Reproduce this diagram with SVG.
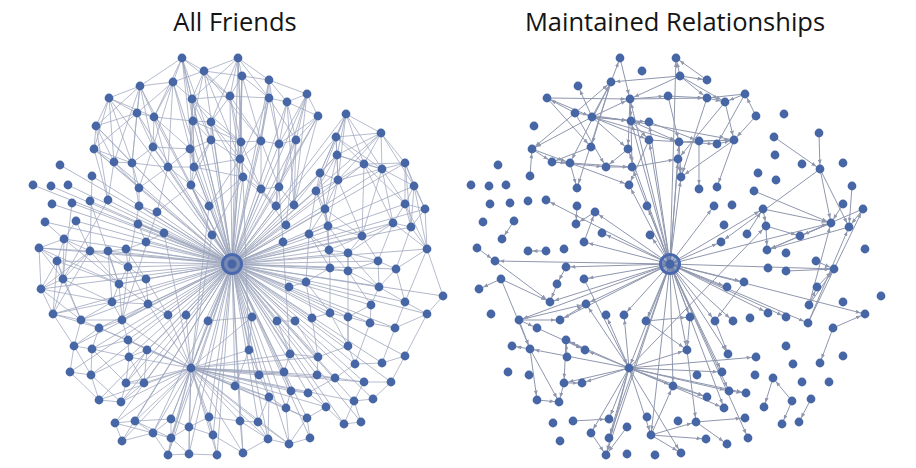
<svg xmlns="http://www.w3.org/2000/svg" xmlns:xlink="http://www.w3.org/1999/xlink" width="916" height="468" viewBox="0 0 916 468">
<style>
.title{font-family:"Open Sans","Noto Sans","Liberation Sans",sans-serif;font-size:25.5px;fill:#141414;text-anchor:middle}
.le{fill:none;stroke:#9ea6bd;stroke-opacity:.75;stroke-width:1}
.lh{fill:none;stroke:#9ea6bd;stroke-opacity:.8;stroke-width:1}
.re path{fill:none;stroke:#8f97ae;stroke-width:1;marker-end:url(#arr)}
#nodes circle{fill:#4766a5}
.hubring{fill:#c9d3ea;fill-opacity:.45;stroke:#4a68ae;stroke-width:3}
.hubdot{fill:#5a77b5}
</style>
<defs>
<marker id="arr" viewBox="0 0 5 4" refX="9.5" refY="2" markerWidth="5" markerHeight="4" markerUnits="userSpaceOnUse" orient="auto"><path d="M0,0L5,2L0,4z" fill="#8f97ae"/></marker>
</defs>
<rect width="916" height="468" fill="#ffffff"/>
<text class="title" x="235" y="31">All Friends</text>
<text class="title" x="675" y="31">Maintained Relationships</text>

<g id="connectors">
<g id="left-edges">
<path class="lh" d="M232 264L182 58M232 264L238 58M232 264L204 71M232 264L242 76M232 264L269 80M232 264L173 82M232 264L140 86M232 264L109 98M232 264L192 99M232 264L230 96M232 264L269 98M232 264L287 102M232 264L307 94M232 264L137 113M232 264L154 117M232 264L193 121M232 264L211 122M232 264L318 116M232 264L346 114M232 264L96 126M232 264L211 140M232 264L241 142M232 264L261 141M232 264L279 144M232 264L296 140M232 264L336 137M232 264L381 133M232 264L94 149M232 264L153 147M232 264L190 149M232 264L337 155M232 264L114 162M232 264L132 163M232 264L168 167M232 264L194 167M232 264L240 159M232 264L364 164M232 264L405 163M232 264L60 165M232 264L92 176M232 264L243 177M232 264L320 173M232 264L338 180M232 264L382 169M232 264L33 185M232 264L51 186M232 264L68 185M232 264L139 188M232 264L191 185M232 264L261 189M232 264L279 187M232 264L316 191M232 264L414 186M232 264L52 204M232 264L72 203M232 264L90 201M232 264L108 200M232 264L139 206M232 264L157 212M232 264L209 206M232 264L276 206M232 264L294 205M232 264L325 209M232 264L405 204M232 264L425 209M232 264L45 222M232 264L76 221M232 264L138 224M232 264L286 225M232 264L328 226M232 264L393 223M232 264L411 227M232 264L164 233M232 264L212 235M232 264L309 234M232 264L362 236M232 264L64 239M232 264L146 242M232 264L283 242M232 264L39 248M232 264L90 251M232 264L108 251M232 264L126 249M232 264L329 250M232 264L348 253M232 264L427 249M232 264L57 261M232 264L128 267M232 264L146 279M232 264L119 284M232 264L63 279M232 264L41 289M232 264L112 302M232 264L148 304M232 264L53 314M232 264L81 320M232 264L122 320M232 264L168 315M232 264L186 315M232 264L208 321M232 264L252 317M232 264L277 321M232 264L295 321M232 264L312 318M232 264L330 313M232 264L348 317M232 264L370 323M232 264L395 328M232 264L427 314M232 264L443 296M232 264L405 302M232 264L371 305M232 264L379 287M232 264L396 269M232 264L378 261M232 264L348 271M232 264L330 268M232 264L306 282M232 264L289 287M232 264L99 328M232 264L128 340M232 264L74 346M232 264L92 349M232 264L147 350M232 264L129 357M232 264L249 350M232 264L290 354M232 264L318 357M232 264L348 346M232 264L355 364M232 264L382 363M232 264L405 356M232 264L70 372M232 264L91 375M232 264L191 368M232 264L259 375M232 264L284 372M232 264L317 375M232 264L335 378M232 264L364 382M232 264L391 382M232 264L126 383M232 264L144 383M232 264L235 386M232 264L291 391M232 264L308 393M232 264L99 400M232 264L121 402M232 264L269 397M232 264L354 401M232 264L373 399M232 264L286 408M232 264L326 407M232 264L115 423M232 264L135 421M232 264L171 419M232 264L209 417M232 264L240 421M232 264L258 422M232 264L307 418M232 264L344 424M232 264L361 422M232 264L153 433M232 264L189 427M232 264L213 435M232 264L268 439M232 264L289 444M232 264L310 438M232 264L122 441M232 264L171 438M232 264L168 455M232 264L189 454M232 264L217 455M232 264L243 453"/>
<path class="le" d="M182 58L204 71M182 58L173 82M182 58L192 99M182 58L140 86M182 58L193 121M182 58L230 96M182 58L154 117M182 58L211 140M238 58L242 76M238 58L204 71M238 58L230 96M238 58L269 80M238 58L269 98M238 58L192 99M238 58L241 142M238 58L211 122M204 71L192 99M204 71L173 82M204 71L230 96M204 71L193 121M204 71L242 76M204 71L261 141M242 76L230 96M242 76L269 98M242 76L269 80M242 76L241 142M242 76L240 159M269 80L269 98M269 80L287 102M269 80L307 94M269 80L279 144M173 82L140 86M173 82L192 99M173 82L137 113M173 82L154 117M173 82L153 147M173 82L190 149M140 86L109 98M140 86L137 113M140 86L154 117M140 86L96 126M140 86L153 147M140 86L132 163M109 98L137 113M109 98L96 126M109 98L94 149M109 98L154 117M109 98L114 162M192 99L230 96M192 99L193 121M192 99L211 122M192 99L211 140M192 99L190 149M192 99L194 167M230 96L269 98M230 96L211 122M230 96L241 142M230 96L261 141M230 96L240 159M269 98L287 102M269 98L261 141M269 98L279 144M269 98L296 140M287 102L307 94M287 102L296 140M287 102L318 116M287 102L279 144M307 94L318 116M307 94L296 140M307 94L294 205M307 94L279 144M137 113L154 117M137 113L96 126M137 113L153 147M137 113L94 149M137 113L132 163M154 117L193 121M154 117L153 147M154 117L168 167M154 117L190 149M193 121L211 122M193 121L211 140M193 121L190 149M193 121L194 167M193 121L241 142M211 122L211 140M211 122L241 142M211 122L240 159M211 122L243 177M318 116L296 140M318 116L294 205M318 116L279 187M318 116L279 144M96 126L94 149M96 126L114 162M96 126L132 163M96 126L108 200M211 140L241 142M211 140L190 149M211 140L194 167M211 140L240 159M211 140L191 185M241 142L261 141M241 142L240 159M241 142L243 177M241 142L261 189M261 141L279 144M261 141L240 159M261 141L261 189M261 141L279 187M279 144L296 140M279 144L279 187M279 144L276 206M296 140L294 205M296 140L279 187M296 140L286 225M94 149L114 162M94 149L132 163M94 149L108 200M94 149L139 188M153 147L190 149M153 147L132 163M153 147L168 167M153 147L139 188M190 149L168 167M190 149L194 167M190 149L191 185M114 162L132 163M114 162L108 200M114 162L139 188M132 163L168 167M132 163L139 188M132 163L139 206M168 167L194 167M168 167L139 188M168 167L191 185M168 167L157 212M194 167L240 159M194 167L191 185M194 167L209 206M194 167L243 177M240 159L243 177M240 159L261 189M240 159L209 206M243 177L261 189M243 177L209 206M243 177L212 235M243 177L276 206M191 185L209 206M191 185L157 212M191 185L212 235M261 189L279 187M261 189L276 206M261 189L286 225M279 187L276 206M279 187L294 205M279 187L283 242M139 206L157 212M139 188L139 206M182 58L194 167M238 58L243 177M204 71L240 159M173 82L168 167M140 86L114 162M307 94L279 187M269 80L261 141M192 99L241 142M269 98L240 159M109 98L132 163M287 102L294 205M242 76L261 141"/>
<path class="le" d="M346 114L336 137M346 114L381 133M346 114L337 155M346 114L364 164M346 114L320 173M346 114L338 180M346 114L382 169M346 114L316 191M381 133L336 137M381 133L364 164M381 133L405 163M381 133L382 169M381 133L337 155M381 133L414 186M381 133L338 180M336 137L337 155M336 137L320 173M336 137L338 180M336 137L364 164M337 155L364 164M337 155L320 173M337 155L338 180M337 155L316 191M337 155L325 209M364 164L382 169M364 164L338 180M364 164L405 163M364 164L405 204M364 164L393 223M364 164L362 236M405 163L382 169M405 163L414 186M405 163L405 204M405 163L425 209M320 173L338 180M320 173L316 191M320 173L325 209M320 173L328 226M320 173L294 205M338 180L316 191M338 180L325 209M338 180L382 169M338 180L328 226M338 180L362 236M382 169L414 186M382 169L405 204M382 169L393 223M382 169L362 236M316 191L325 209M316 191L328 226M316 191L309 234M414 186L405 204M414 186L425 209M414 186L411 227M414 186L427 249M325 209L328 226M325 209L309 234M325 209L329 250M325 209L362 236M405 204L425 209M405 204L393 223M405 204L411 227M425 209L411 227M425 209L427 249M328 226L309 234M328 226L329 250M328 226L348 253M328 226L362 236M393 223L411 227M393 223L362 236M393 223L427 249M393 223L378 261M393 223L348 253M411 227L427 249M411 227L396 269M309 234L329 250M309 234L330 268M309 234L306 282M362 236L348 253M362 236L378 261M362 236L329 250M329 250L348 253M329 250L330 268M329 250L348 271M348 253L348 271M348 253L378 261M348 253L379 287M427 249L396 269M427 249L405 302M427 249L443 296M378 261L396 269M378 261L348 271M378 261L379 287M396 269L379 287M396 269L405 302M330 268L348 271M330 268L306 282M330 268L330 313M348 271L379 287M348 271L371 305M379 287L371 305M379 287L405 302M306 282L289 287M306 282L312 318M306 282L330 313M371 305L370 323M371 305L348 317M405 302L427 314M405 302L395 328M443 296L427 314M427 314L395 328M395 328L370 323M370 323L348 317M348 317L330 313M330 313L312 318M405 204L427 249M405 163L411 227M337 155L382 169M336 137L382 169"/>
<path class="le" d="M76 221L64 239M76 221L90 251M45 222L64 239M64 239L39 248M64 239L57 261M64 239L90 251M64 239L63 279M64 239L119 284M39 248L57 261M39 248L41 289M39 248L63 279M39 248L90 251M57 261L63 279M57 261L41 289M57 261L119 284M57 261L53 314M63 279L41 289M63 279L112 302M63 279L53 314M63 279L81 320M41 289L53 314M41 289L81 320M41 289L90 251M90 251L108 251M90 251L119 284M90 251L63 279M90 251L128 267M108 251L126 249M108 251L128 267M108 251L119 284M108 251L112 302M126 249L128 267M126 249L146 279M126 249L146 242M128 267L146 279M128 267L119 284M128 267L148 304M128 267L122 320M146 279L148 304M146 279L119 284M146 279L168 315M119 284L112 302M119 284L122 320M119 284L148 304M112 302L122 320M112 302L81 320M112 302L53 314M112 302L148 304M53 314L81 320M53 314L99 328M81 320L99 328M81 320L122 320M122 320L148 304M122 320L99 328M148 304L168 315M146 242L164 233M138 224L164 233M138 224L146 242M99 328L128 340M99 328L74 346M99 328L92 349M128 340L147 350M128 340L129 357M128 340L92 349M128 340L122 320M74 346L92 349M74 346L70 372M74 346L91 375M92 349L129 357M92 349L91 375M92 349L126 383M147 350L129 357M147 350L144 383M147 350L126 383M129 357L126 383M129 357L144 383M129 357L91 375M70 372L91 375M70 372L99 400M91 375L99 400M91 375L121 402M126 383L144 383M126 383L121 402M144 383L121 402M99 400L121 402M57 261L81 320M39 248L119 284M41 289L112 302M90 251L53 314M53 314L74 346M81 320L74 346M212 235L191 368M209 206L191 368M164 233L191 368M283 242L290 354M243 177L249 350M157 212L122 320M108 200L63 279M139 206L128 267M90 201L119 284M72 203L63 279M92 176L90 251"/>
<path class="le" d="M191 368L147 350M191 368L129 357M191 368L144 383M191 368L126 383M191 368L121 402M191 368L99 400M191 368L128 340M191 368L168 315M191 368L186 315M191 368L208 321M191 368L249 350M191 368L259 375M191 368L235 386M191 368L269 397M191 368L284 372M191 368L291 391M191 368L317 375M191 368L286 408M191 368L308 393M191 368L326 407M191 368L171 419M191 368L209 417M191 368L153 433M191 368L189 427M191 368L213 435M191 368L171 438M191 368L168 455M191 368L189 454M191 368L217 455M191 368L243 453M191 368L240 421M191 368L258 422M191 368L268 439M191 368L289 444M191 368L307 418M191 368L335 378M191 368L354 401M191 368L364 382M191 368L290 354M191 368L318 357M191 368L252 317M191 368L122 320M191 368L148 304M191 368L99 328M191 368L122 441M191 368L135 421M191 368L115 423M115 423L135 421M115 423L153 433M115 423L122 441M135 421L153 433M135 421L171 419M135 421L171 438M171 419L153 433M171 419L171 438M171 419L189 427M153 433L122 441M153 433L171 438M153 433L168 455M171 438L168 455M171 438L189 454M171 438L189 427M168 455L189 454M189 454L217 455M189 427L189 454M189 427L213 435M189 427L209 417M209 417L213 435M209 417L240 421M213 435L217 455M213 435L243 453M240 421L258 422M240 421L243 453M240 421L268 439M258 422L268 439M258 422L289 444M268 439L289 444M268 439L243 453M289 444L310 438M307 418L310 438M307 418L289 444M307 418L326 407M269 397L286 408M269 397L258 422M269 397L268 439M286 408L289 444M286 408L307 418M291 391L308 393M291 391L286 408M308 393L326 407M326 407L344 424M344 424L361 422M354 401L361 422M354 401L373 399M354 401L344 424M373 399L391 382M364 382L354 401M364 382L391 382M335 378L364 382M317 375L335 378M317 375L318 357M318 357L290 354M290 354L284 372M284 372L259 375M259 375L249 350M249 350L235 386M235 386L269 397M348 346L355 364M355 364L382 363M382 363L405 356M348 346L318 357M355 364L335 378M405 356L391 382M252 317L249 350M277 321L290 354M295 321L318 357M208 321L252 317M277 321L295 321M259 375L269 397M284 372L291 391M335 378L308 393M348 253L348 346M348 317L348 346M370 323L355 364M395 328L382 363M427 314L405 356M312 318L318 357M330 313L348 346"/>
</g>
<g id="right-edges" class="re" transform="translate(438,0)">
<path d="M232 264L238 58"/><path d="M232 264L193 121"/><path d="M232 264L211 140"/><path d="M232 264L190 149"/><path d="M232 264L194 167"/><path d="M232 264L191 185"/><path d="M232 264L209 206"/><path d="M232 264L212 235"/><path d="M232 264L240 159"/><path d="M232 264L243 177"/><path d="M232 264L241 142"/><path d="M232 264L192 99"/><path d="M232 264L211 122"/><path d="M232 264L276 206"/><path d="M232 264L283 242"/><path d="M232 264L325 209"/><path d="M232 264L393 223"/><path d="M232 264L108 200"/><path d="M232 264L164 233"/><path d="M232 264L146 242"/><path d="M232 264L157 212"/>
<path d="M232 264L57 261"/><path d="M232 264L128 267"/><path d="M232 264L112 302"/><path d="M232 264L148 304"/><path d="M232 264L81 320"/><path d="M232 264L122 320"/><path d="M232 264L146 279"/>
<path d="M232 264L191 368"/><path d="M232 264L186 315"/><path d="M232 264L208 321"/><path d="M232 264L252 317"/><path d="M232 264L277 321"/><path d="M232 264L295 321"/><path d="M232 264L306 282"/><path d="M232 264L289 287"/><path d="M232 264L427 314"/><path d="M232 264L370 323"/><path d="M232 264L330 313"/><path d="M232 264L348 317"/><path d="M232 264L249 350"/><path d="M232 264L284 372"/><path d="M232 264L291 391"/><path d="M232 264L286 408"/><path d="M232 264L310 438"/><path d="M232 264L213 435"/><path d="M232 264L168 455"/><path d="M232 264L171 438"/><path d="M232 264L235 386"/><path d="M232 264L290 354"/><path d="M232 264L396 269"/>
<path d="M173 82L182 58"/><path d="M137 113L173 82"/><path d="M154 117L173 82"/><path d="M173 82L153 147"/><path d="M173 82L132 163"/><path d="M173 82L139 188"/><path d="M242 76L192 99"/><path d="M242 76L173 82"/><path d="M242 76L238 58"/><path d="M269 80L238 58"/><path d="M242 76L269 80"/><path d="M242 76L269 98"/><path d="M242 76L287 102"/><path d="M154 117L140 86"/><path d="M137 113L109 98"/><path d="M109 98L192 99"/><path d="M109 98L153 147"/><path d="M109 98L154 117"/><path d="M137 113L94 149"/><path d="M154 117L94 149"/><path d="M94 149L114 162"/><path d="M94 149L132 163"/><path d="M114 162L132 163"/><path d="M92 176L94 149"/><path d="M132 163L139 188"/><path d="M307 94L287 102"/><path d="M307 94L269 98"/><path d="M318 116L307 94"/><path d="M318 116L296 140"/><path d="M307 94L279 144"/><path d="M287 102L296 140"/><path d="M269 98L287 102"/><path d="M192 99L230 96"/><path d="M230 96L269 98"/><path d="M192 99L269 98"/><path d="M192 99L193 121"/><path d="M154 117L193 121"/><path d="M154 117L211 122"/><path d="M154 117L192 99"/><path d="M154 117L211 140"/><path d="M154 117L190 149"/><path d="M154 117L241 142"/><path d="M137 113L193 121"/><path d="M137 113L168 167"/><path d="M193 121L241 142"/><path d="M211 122L261 141"/><path d="M193 121L211 140"/><path d="M211 140L279 144"/><path d="M241 142L296 140"/><path d="M261 141L296 140"/><path d="M279 144L296 140"/><path d="M193 121L194 167"/><path d="M190 149L168 167"/><path d="M168 167L194 167"/><path d="M194 167L240 159"/><path d="M153 147L114 162"/><path d="M114 162L168 167"/><path d="M132 163L194 167"/><path d="M132 163L191 185"/><path d="M296 140L279 187"/><path d="M296 140L193 121"/><path d="M287 102L240 159"/><path d="M269 98L243 177"/><path d="M240 159L243 177"/><path d="M241 142L243 177"/><path d="M230 96L241 142"/><path d="M182 58L192 99"/><path d="M192 99L190 149"/><path d="M211 140L191 185"/><path d="M261 141L261 189"/><path d="M296 140L243 177"/><path d="M139 206L138 224"/><path d="M157 212L138 224"/><path d="M146 242L157 212"/><path d="M76 221L64 239"/><path d="M108 251L90 251"/><path d="M39 248L57 261"/>
<path d="M336 137L382 169"/><path d="M381 133L382 169"/><path d="M382 169L393 223"/><path d="M382 169L411 227"/><path d="M382 169L283 242"/><path d="M325 209L393 223"/><path d="M325 209L328 226"/><path d="M328 226L362 236"/><path d="M328 226L329 250"/><path d="M393 223L329 250"/><path d="M411 227L329 250"/><path d="M425 209L329 250"/><path d="M405 204L393 223"/><path d="M425 209L411 227"/><path d="M316 191L393 223"/><path d="M309 234L325 209"/><path d="M414 186L411 227"/><path d="M393 223L362 236"/><path d="M348 271L396 269"/><path d="M378 261L396 269"/><path d="M379 287L396 269"/><path d="M371 305L379 287"/><path d="M371 305L396 269"/><path d="M370 323L411 227"/><path d="M370 323L425 209"/><path d="M371 305L393 223"/><path d="M395 328L427 314"/><path d="M395 328L382 363"/><path d="M306 282L277 321"/>
<path d="M191 368L92 349"/><path d="M191 368L126 383"/><path d="M191 368L144 383"/><path d="M191 368L128 340"/><path d="M191 368L168 455"/><path d="M191 368L171 438"/><path d="M191 368L153 433"/><path d="M191 368L171 419"/><path d="M191 368L213 435"/><path d="M191 368L243 453"/><path d="M191 368L235 386"/><path d="M191 368L269 397"/><path d="M191 368L291 391"/><path d="M191 368L284 372"/><path d="M191 368L318 357"/><path d="M191 368L286 408"/><path d="M191 368L308 393"/><path d="M191 368L186 315"/><path d="M191 368L168 315"/><path d="M191 368L148 304"/><path d="M191 368L147 350"/><path d="M191 368L249 350"/><path d="M191 368L328 226"/><path d="M213 435L235 386"/><path d="M213 435L258 422"/><path d="M213 435L268 439"/><path d="M213 435L243 453"/><path d="M258 422L307 418"/><path d="M258 422L289 444"/><path d="M249 350L258 422"/><path d="M208 321L252 317"/><path d="M208 321L249 350"/><path d="M135 421L171 419"/><path d="M153 433L168 455"/><path d="M189 427L168 455"/><path d="M92 349L74 346"/><path d="M92 349L121 402"/><path d="M92 349L99 400"/><path d="M128 340L126 383"/><path d="M128 340L147 350"/><path d="M126 383L144 383"/><path d="M126 383L121 402"/><path d="M99 400L121 402"/><path d="M99 328L147 350"/><path d="M81 320L122 320"/><path d="M81 320L148 304"/><path d="M81 320L99 328"/><path d="M81 320L92 349"/><path d="M122 320L148 304"/><path d="M63 279L112 302"/><path d="M57 261L112 302"/><path d="M63 279L41 289"/><path d="M63 279L92 349"/><path d="M128 267L119 284"/><path d="M119 284L112 302"/><path d="M146 279L191 368"/><path d="M129 357L128 340"/><path d="M354 401L335 378"/><path d="M335 378L326 407"/><path d="M373 399L361 422"/><path d="M354 401L344 424"/><path d="M291 391L308 393"/><path d="M235 386L269 397"/><path d="M277 321L290 354"/><path d="M252 317L249 350"/>
</g>
</g>

<g id="nodes">
<circle id="n1" cx="182" cy="58" r="4.4"/><circle id="n2" cx="238" cy="58" r="4.4"/><circle id="n3" cx="204" cy="71" r="4.4"/><circle id="n4" cx="242" cy="76" r="4.4"/><circle id="n5" cx="269" cy="80" r="4.4"/><circle id="n6" cx="173" cy="82" r="4.4"/><circle id="n7" cx="140" cy="86" r="4.4"/><circle id="n8" cx="109" cy="98" r="4.4"/><circle id="n9" cx="192" cy="99" r="4.4"/><circle id="n10" cx="230" cy="96" r="4.4"/><circle id="n11" cx="269" cy="98" r="4.4"/><circle id="n12" cx="287" cy="102" r="4.4"/><circle id="n13" cx="307" cy="94" r="4.4"/><circle id="n14" cx="137" cy="113" r="4.4"/><circle id="n15" cx="154" cy="117" r="4.4"/><circle id="n16" cx="193" cy="121" r="4.4"/><circle id="n17" cx="211" cy="122" r="4.4"/><circle id="n18" cx="318" cy="116" r="4.4"/><circle id="n19" cx="346" cy="114" r="4.4"/><circle id="n20" cx="96" cy="126" r="4.4"/><circle id="n21" cx="211" cy="140" r="4.4"/><circle id="n22" cx="241" cy="142" r="4.4"/><circle id="n23" cx="261" cy="141" r="4.4"/><circle id="n24" cx="279" cy="144" r="4.4"/><circle id="n25" cx="296" cy="140" r="4.4"/><circle id="n26" cx="336" cy="137" r="4.4"/><circle id="n27" cx="381" cy="133" r="4.4"/><circle id="n28" cx="94" cy="149" r="4.4"/><circle id="n29" cx="153" cy="147" r="4.4"/><circle id="n30" cx="190" cy="149" r="4.4"/><circle id="n31" cx="337" cy="155" r="4.4"/><circle id="n32" cx="114" cy="162" r="4.4"/><circle id="n33" cx="132" cy="163" r="4.4"/><circle id="n34" cx="168" cy="167" r="4.4"/><circle id="n35" cx="194" cy="167" r="4.4"/><circle id="n36" cx="240" cy="159" r="4.4"/><circle id="n37" cx="364" cy="164" r="4.4"/><circle id="n38" cx="405" cy="163" r="4.4"/><circle id="n39" cx="60" cy="165" r="4.4"/><circle id="n40" cx="92" cy="176" r="4.4"/><circle id="n41" cx="243" cy="177" r="4.4"/><circle id="n42" cx="320" cy="173" r="4.4"/><circle id="n43" cx="338" cy="180" r="4.4"/><circle id="n44" cx="382" cy="169" r="4.4"/><circle id="n45" cx="33" cy="185" r="4.4"/><circle id="n46" cx="51" cy="186" r="4.4"/><circle id="n47" cx="68" cy="185" r="4.4"/><circle id="n48" cx="139" cy="188" r="4.4"/><circle id="n49" cx="191" cy="185" r="4.4"/><circle id="n50" cx="261" cy="189" r="4.4"/><circle id="n51" cx="279" cy="187" r="4.4"/><circle id="n52" cx="316" cy="191" r="4.4"/><circle id="n53" cx="414" cy="186" r="4.4"/><circle id="n54" cx="52" cy="204" r="4.4"/><circle id="n55" cx="72" cy="203" r="4.4"/><circle id="n56" cx="90" cy="201" r="4.4"/><circle id="n57" cx="108" cy="200" r="4.4"/><circle id="n58" cx="139" cy="206" r="4.4"/><circle id="n59" cx="157" cy="212" r="4.4"/><circle id="n60" cx="209" cy="206" r="4.4"/><circle id="n61" cx="276" cy="206" r="4.4"/><circle id="n62" cx="294" cy="205" r="4.4"/><circle id="n63" cx="325" cy="209" r="4.4"/><circle id="n64" cx="405" cy="204" r="4.4"/><circle id="n65" cx="425" cy="209" r="4.4"/><circle id="n66" cx="45" cy="222" r="4.4"/><circle id="n67" cx="76" cy="221" r="4.4"/><circle id="n68" cx="138" cy="224" r="4.4"/><circle id="n69" cx="286" cy="225" r="4.4"/><circle id="n70" cx="328" cy="226" r="4.4"/><circle id="n71" cx="393" cy="223" r="4.4"/><circle id="n72" cx="411" cy="227" r="4.4"/><circle id="n73" cx="164" cy="233" r="4.4"/><circle id="n74" cx="212" cy="235" r="4.4"/><circle id="n75" cx="309" cy="234" r="4.4"/><circle id="n76" cx="362" cy="236" r="4.4"/><circle id="n77" cx="64" cy="239" r="4.4"/><circle id="n78" cx="146" cy="242" r="4.4"/><circle id="n79" cx="283" cy="242" r="4.4"/><circle id="n80" cx="39" cy="248" r="4.4"/><circle id="n81" cx="90" cy="251" r="4.4"/><circle id="n82" cx="108" cy="251" r="4.4"/><circle id="n83" cx="126" cy="249" r="4.4"/><circle id="n84" cx="329" cy="250" r="4.4"/><circle id="n85" cx="348" cy="253" r="4.4"/><circle id="n86" cx="427" cy="249" r="4.4"/>
<circle id="m1" cx="57" cy="261" r="4.4"/><circle id="m3" cx="128" cy="267" r="4.4"/><circle id="m4" cx="146" cy="279" r="4.4"/><circle id="m5" cx="119" cy="284" r="4.4"/><circle id="m6" cx="63" cy="279" r="4.4"/><circle id="m7" cx="41" cy="289" r="4.4"/><circle id="m8" cx="112" cy="302" r="4.4"/><circle id="m9" cx="148" cy="304" r="4.4"/><circle id="m10" cx="53" cy="314" r="4.4"/><circle id="m11" cx="81" cy="320" r="4.4"/><circle id="m12" cx="122" cy="320" r="4.4"/><circle id="m13" cx="168" cy="315" r="4.4"/><circle id="m14" cx="186" cy="315" r="4.4"/><circle id="m15" cx="208" cy="321" r="4.4"/><circle id="m16" cx="252" cy="317" r="4.4"/><circle id="m17" cx="277" cy="321" r="4.4"/><circle id="m18" cx="295" cy="321" r="4.4"/><circle id="m19" cx="312" cy="318" r="4.4"/><circle id="m20" cx="330" cy="313" r="4.4"/><circle id="m21" cx="348" cy="317" r="4.4"/><circle id="m22" cx="370" cy="323" r="4.4"/><circle id="m23" cx="395" cy="328" r="4.4"/><circle id="m24" cx="427" cy="314" r="4.4"/><circle id="m25" cx="443" cy="296" r="4.4"/><circle id="m26" cx="405" cy="302" r="4.4"/><circle id="m27" cx="371" cy="305" r="4.4"/><circle id="m28" cx="379" cy="287" r="4.4"/><circle id="m29" cx="396" cy="269" r="4.4"/><circle id="m30" cx="378" cy="261" r="4.4"/><circle id="m31" cx="348" cy="271" r="4.4"/><circle id="m32" cx="330" cy="268" r="4.4"/><circle id="m34" cx="306" cy="282" r="4.4"/><circle id="m35" cx="289" cy="287" r="4.4"/><circle id="m36" cx="99" cy="328" r="4.4"/><circle id="m37" cx="128" cy="340" r="4.4"/><circle id="m38" cx="74" cy="346" r="4.4"/><circle id="m39" cx="92" cy="349" r="4.4"/><circle id="m40" cx="147" cy="350" r="4.4"/><circle id="m41" cx="129" cy="357" r="4.4"/><circle id="m42" cx="249" cy="350" r="4.4"/><circle id="m43" cx="290" cy="354" r="4.4"/><circle id="m44" cx="318" cy="357" r="4.4"/><circle id="m45" cx="348" cy="346" r="4.4"/><circle id="m46" cx="355" cy="364" r="4.4"/><circle id="m47" cx="382" cy="363" r="4.4"/><circle id="m48" cx="405" cy="356" r="4.4"/><circle id="m49" cx="70" cy="372" r="4.4"/><circle id="m50" cx="91" cy="375" r="4.4"/><circle id="m51" cx="191" cy="368" r="4.4"/><circle id="m52" cx="259" cy="375" r="4.4"/><circle id="m53" cx="284" cy="372" r="4.4"/><circle id="m54" cx="317" cy="375" r="4.4"/><circle id="m55" cx="335" cy="378" r="4.4"/><circle id="m56" cx="364" cy="382" r="4.4"/><circle id="m57" cx="391" cy="382" r="4.4"/><circle id="m58" cx="126" cy="383" r="4.4"/><circle id="m59" cx="144" cy="383" r="4.4"/><circle id="m60" cx="235" cy="386" r="4.4"/><circle id="m61" cx="291" cy="391" r="4.4"/><circle id="m62" cx="308" cy="393" r="4.4"/><circle id="m63" cx="99" cy="400" r="4.4"/><circle id="m64" cx="121" cy="402" r="4.4"/><circle id="m65" cx="269" cy="397" r="4.4"/><circle id="m66" cx="354" cy="401" r="4.4"/><circle id="m67" cx="373" cy="399" r="4.4"/><circle id="m68" cx="286" cy="408" r="4.4"/><circle id="m69" cx="326" cy="407" r="4.4"/><circle id="m70" cx="115" cy="423" r="4.4"/><circle id="m71" cx="135" cy="421" r="4.4"/><circle id="m72" cx="171" cy="419" r="4.4"/><circle id="m73" cx="209" cy="417" r="4.4"/><circle id="m74" cx="240" cy="421" r="4.4"/><circle id="m75" cx="258" cy="422" r="4.4"/><circle id="m76" cx="307" cy="418" r="4.4"/><circle id="m77" cx="344" cy="424" r="4.4"/><circle id="m78" cx="361" cy="422" r="4.4"/><circle id="m79" cx="153" cy="433" r="4.4"/><circle id="m80" cx="189" cy="427" r="4.4"/><circle id="m81" cx="213" cy="435" r="4.4"/><circle id="m82" cx="268" cy="439" r="4.4"/><circle id="m83" cx="289" cy="444" r="4.4"/><circle id="m84" cx="310" cy="438" r="4.4"/><circle id="m85" cx="122" cy="441" r="4.4"/><circle id="m86" cx="171" cy="438" r="4.4"/><circle id="m87" cx="168" cy="455" r="4.4"/><circle id="m88" cx="189" cy="454" r="4.4"/><circle id="m89" cx="217" cy="455" r="4.4"/><circle id="m90" cx="243" cy="453" r="4.4"/>
<g id="hub"><circle class="hubring" cx="232" cy="264" r="9.5"/><circle class="hubdot" cx="232" cy="264" r="4.5"/></g>
</g>
<use id="nodes-maintained" href="#nodes" xlink:href="#nodes" x="438" y="0"/>
</svg>
